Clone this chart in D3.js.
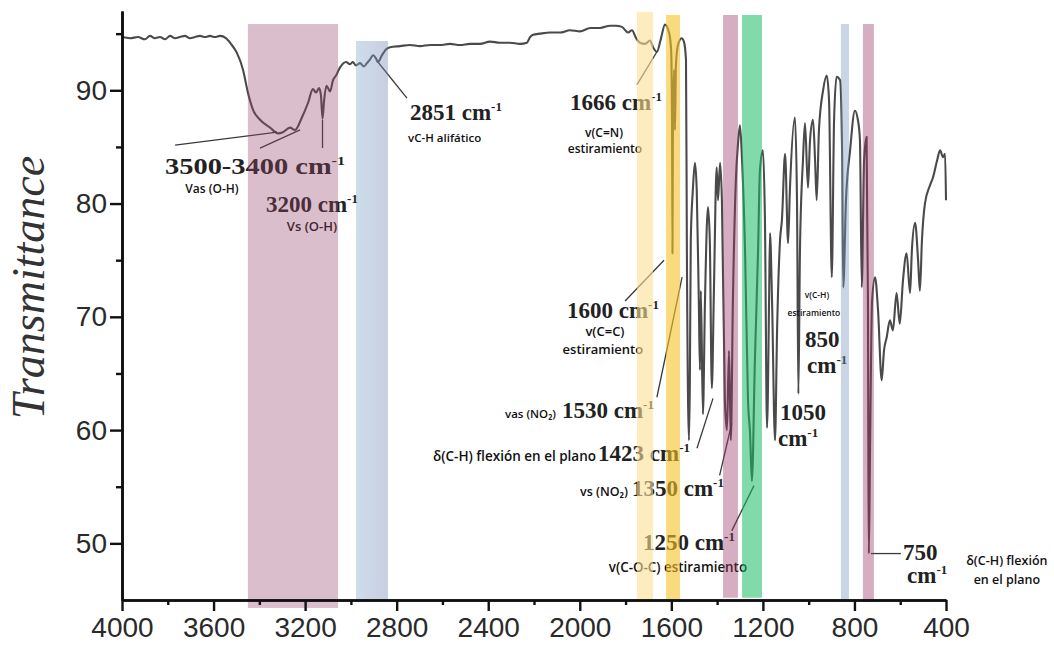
<!DOCTYPE html>
<html>
<head>
<meta charset="utf-8">
<script src="https://cdn.jsdelivr.net/npm/d3@7"></script>
<style>
  html, body { margin: 0; padding: 0; background: #fff; }
  svg { display: block; }
</style>
</head>
<body>
<svg id="chart" width="1054" height="645"></svg>
<script>
// FTIR spectrum: wavenumber (cm-1) and transmittance (%)
const wavenumber = [4000,3965,3930,3900,3878,3856,3834,3812,3790,3768,3747,3725,3703,3681,3659,3637,3616,3594,3572,3546,
  3524,3498,3471,3450,3428,3397,3353,3318,3297,3266,3244,3214,3187,3166,3152,3139,3131,3124,3117,3107,
  3100,3091,3078,3065,3048,3021,3004,2991,2978,2960,2943,2930,2917,2903,2890,2882,2864,2847,2829,2785,
  2742,2698,2654,2611,2567,2523,2480,2436,2392,2349,2305,2261,2231,2217,2204,2174,2130,2086,2043,1999,
  1955,1912,1868,1842,1816,1789,1772,1754,1737,1715,1693,1680,1663,1645,1628,1610,1601,1597,1595,1593,
  1588,1584,1580,1571,1555,1545,1536,1532,1523,1519,1515,1506,1497,1489,1480,1475,1471,1462,1453,1440,
  1432,1423,1414,1402,1396,1387,1379,1366,1357,1348,1340,1331,1318,1309,1300,1291,1278,1265,1256,1248,
  1235,1221,1213,1200,1191,1182,1173,1169,1160,1147,1138,1125,1117,1103,1090,1082,1060,1051,1045,1038,
  1025,1016,1003,994,981,972,965,955,937,921,911,899,889,878,863,854,849,837,819,798,
  785,776,768,758,747,741,739,737,732,723,710,697,681,671,659,645,632,616,602,588,
  572,557,549,535,522,514,505,492,470,457,439,426,413,404,400];

const transmittance = [94.7,94.6,94.7,94.5,94.8,94.6,94.7,94.5,94.8,94.6,94.7,94.8,94.6,94.7,94.8,94.7,94.8,94.7,94.8,94.6,
  94.1,93.3,91.8,89.8,88.3,87.4,86.7,86.2,86.3,86.7,86.5,87.6,88.9,90.1,89.8,90.2,89.6,87.5,89.1,90.4,
  90.2,89.9,90.9,91.3,92.0,92.5,92.3,92.5,92.2,92.4,92.1,92.4,92.7,93.1,92.8,92.5,93.1,93.6,93.8,93.9,
  94.0,93.9,94.0,94.0,94.1,94.0,94.1,94.1,94.3,94.2,94.2,94.1,94.2,94.7,94.9,95.0,95.1,95.1,95.3,95.2,
  95.5,95.5,95.7,95.7,95.6,95.1,95.3,94.6,94.2,94.1,94.4,93.8,93.4,94.6,95.8,95.1,93.6,87.4,75.6,87.4,
  91.8,86.5,92.2,94.0,94.6,94.3,92.7,75.6,59.1,64.4,76.8,81.2,83.6,81.2,71.4,65.3,72.3,61.4,71.4,79.7,
  76.8,63.7,72.3,83.2,80.3,83.6,80.3,62.6,60.0,67.0,59.1,71.4,82.1,85.2,86.9,83.8,75.9,62.6,59.7,55.5,
  66.1,75.9,82.9,84.7,78.5,60.2,71.4,77.4,71.4,59.1,68.8,76.8,78.5,84.4,76.5,81.2,87.6,80.3,63.2,75.9,
  83.8,87.1,81.4,85.6,87.4,83.8,80.3,86.5,90.0,91.3,89.1,73.5,87.4,91.2,90.9,84.7,72.6,80.3,84.7,88.2,
  87.4,85.6,72.6,83.8,85.9,71.4,56.7,49.1,58.2,71.4,73.5,70.6,64.4,67.0,68.2,69.7,68.8,72.1,69.4,73.2,
  75.6,72.1,75.9,78.3,75.0,72.3,76.8,80.0,81.6,82.3,83.8,84.7,84.1,84.4,80.3];

// Axis ticks
const xMajorTicks = [4000,3600,3200,2800,2400,2000,1600,1200,800,400];
const xMinorTicks = [3800,3400,3000,2600,2200,1800,1400,1000,600];
const yMajorTicks = [50,60,70,80,90];
const yMinorTicks = [55,65,75,85,95];

// Highlighted absorption regions (cm-1) and their vertical extent (%T)
const bandStart  = [3450, 2978, 1750, 1623, 1374, 1291, 859, 763];
const bandEnd    = [3056, 2838, 1680, 1562, 1309, 1204, 824, 715];
const bandTop    = [95.85, 94.35, 96.9, 96.65, 96.65, 96.65, 95.85, 95.85];
const bandBottom = [44.3, 45.0, 45.0, 44.85, 45.2, 45.2, 44.85, 44.85];
const bandFill   = ["rgb(149,69,106)", "url(#blueBand)", "rgb(250,223,147)", "rgb(245,193,38)",
                    "rgb(150,55,100)", "rgb(28,188,100)", "rgb(120,150,190)", "rgb(150,55,100)"];
const bandOpacity = [0.35, 0.4, 0.6, 0.6, 0.4, 0.55, 0.4, 0.4];

// Peak labels (value part, followed by "cm-1")
const peakText = ["3500-3400", "3200", "2851", "1666", "1600", "1530", "1423", "1350", "1250"];
const peakAt = [[3812, 82.6], [3371, 79.25], [2742, 87.4], [2043, 88.3], [2056, 69.9],
                [2078, 61.1], [1920, 57.3], [1772, 54.2], [1724, 49.4]];
const peakWidth = [180, null, null, null, null, null, null, null, null];

// Two-line peak labels (value above, unit below)
const stackedText = ["850", "1050", "750"];
const stackedAt = [[1016, 67.3], [1125, 60.9], [588, 48.5]];
const stackedUnitAt = [[1007, 65.0], [1134, 58.6], [570, 46.5]];

// Band assignments
const assignText = ["Vas (O-H)", "Vs (O-H)", "vC-H alifático", "v(C=N)", "estiramiento", "v(C=C)", "estiramiento",
  "vas (NO\u2082)", "\u03b4(C-H) flexión en el plano", "vs (NO\u2082)", "v(C-O-C) estiramiento",
  "v(C-H)", "estiramiento", "\u03b4(C-H) flexión", "en el plano"];
const assignAt = [[3607, 80.9], [3170, 77.6], [2750, 85.4], [1894, 85.9], [1890, 84.45], [1890, 68.3], [1899, 66.7],
  [2104, 61.1], [1929, 57.3], [1789, 54.2], [1571, 47.5], [964, 71.7], [977, 70.1], [134, 48.05], [134, 46.45]];
const assignAnchor = ["middle", "middle", "start", "middle", "middle", "middle", "middle",
  "end", "end", "end", "middle", "middle", "middle", "middle", "middle"];
const assignSize = [12, 13, 11.5, 12, 12, 13, 13, 11.5, 13.5, 12.5, 13.4, 8.5, 8.5, 12.5, 12.5];

// Leader lines joining labels to peaks
const leaders = [
  [[3768, 85.15], [3323, 86.3]],
  [[3397, 84.9], [3222, 86.5]],
  [[3124, 87.4], [3124, 84.9]],
  [[2882, 92.5], [2755, 89.3]],
  [[1663, 93.4], [1750, 90.5]],
  [[1632, 75.0], [1802, 71.4]],
  [[1553, 73.5], [1663, 62.9]],
  [[1418, 62.8], [1488, 58.4]],
  [[1336, 60.6], [1389, 56.0]],
  [[1239, 55.1], [1336, 51.1]],
  [[728, 49.1], [597, 49.1]]
];

const svg = d3.select("#chart");
const x = d3.scaleLinear().domain([4000, 400]).range([122, 946]);
const y = d3.scaleLinear().domain([45, 97]).range([600, 11]);

const defs = svg.append("defs");
const grad = defs.append("linearGradient").attr("id", "blueBand")
  .attr("x1", "0%").attr("x2", "100%").attr("y1", "0%").attr("y2", "0%");
grad.append("stop").attr("offset", "0%").attr("stop-color", "rgb(130,172,205)");
grad.append("stop").attr("offset", "100%").attr("stop-color", "rgb(118,132,178)");

// Spectrum trace
const spectrum = wavenumber.map((w, i) => ({ w, t: transmittance[i] }));
const line = d3.line().x(d => x(d.w)).y(d => y(d.t)).curve(d3.curveMonotoneX);
svg.append("path")
  .datum(spectrum)
  .attr("d", line)
  .attr("fill", "none")
  .attr("stroke", "#4a4a4a")
  .attr("stroke-width", 2.1)
  .attr("stroke-linejoin", "round");

// Leader lines
svg.append("g").selectAll("line").data(leaders).join("line")
  .attr("x1", d => x(d[0][0])).attr("y1", d => y(d[0][1]))
  .attr("x2", d => x(d[1][0])).attr("y2", d => y(d[1][1]))
  .attr("stroke", "#3a3a3a").attr("stroke-width", 1.3);

// Peak labels in bold serif with superscript unit
const serif = "'Liberation Serif', 'Times New Roman', serif";
function unitLabel(g, px, py, value, width) {
  const t = g.append("text")
    .attr("x", px).attr("y", py)
    .attr("font-family", serif).attr("font-weight", "bold")
    .attr("font-size", 23).attr("fill", "#222");
  t.append("tspan").text(value === "" ? "cm" : value + " cm");
  t.append("tspan").attr("font-size", 13).attr("dy", -9).text("-1");
  if (width) t.attr("textLength", width).attr("lengthAdjust", "spacingAndGlyphs");
  return t;
}
const labels = svg.append("g");
peakText.forEach((s, i) => unitLabel(labels, x(peakAt[i][0]), y(peakAt[i][1]), s, peakWidth[i]));
stackedText.forEach((s, i) => {
  labels.append("text")
    .attr("x", x(stackedAt[i][0])).attr("y", y(stackedAt[i][1]))
    .attr("font-family", serif).attr("font-weight", "bold")
    .attr("font-size", 23).attr("fill", "#222").text(s);
  unitLabel(labels, x(stackedUnitAt[i][0]), y(stackedUnitAt[i][1]), "", null);
});

// Assignment captions
svg.append("g").selectAll("text").data(assignText).join("text")
  .attr("x", (d, i) => x(assignAt[i][0]))
  .attr("y", (d, i) => y(assignAt[i][1]))
  .attr("text-anchor", (d, i) => assignAnchor[i])
  .attr("font-family", "'Open Sans', 'Noto Sans', sans-serif")
  .attr("font-weight", 600)
  .attr("font-size", (d, i) => assignSize[i])
  .attr("fill", "#111")
  .text(d => d);

// Highlight bands over the trace
svg.append("g").selectAll("rect").data(bandStart).join("rect")
  .attr("x", (d, i) => x(d))
  .attr("width", (d, i) => x(bandEnd[i]) - x(d))
  .attr("y", (d, i) => y(bandTop[i]))
  .attr("height", (d, i) => y(bandBottom[i]) - y(bandTop[i]))
  .attr("fill", (d, i) => bandFill[i])
  .attr("fill-opacity", (d, i) => bandOpacity[i]);

// Axes
const axisFont = "'Liberation Sans', Arial, sans-serif";
function styleAxis(g) {
  g.select(".domain").attr("stroke", "#111").attr("stroke-width", 2.6);
  g.selectAll(".tick line").attr("stroke", "#111").attr("stroke-width", 2.4);
  g.selectAll(".tick text").attr("font-family", axisFont).attr("font-size", 28).attr("fill", "#2a2a2a");
}
svg.append("g").attr("transform", "translate(0,600)")
  .call(d3.axisBottom(x).tickValues(xMinorTicks).tickSize(5).tickSizeOuter(0).tickFormat(""))
  .call(styleAxis);
svg.append("g").attr("transform", "translate(0,600)")
  .call(d3.axisBottom(x).tickValues(xMajorTicks).tickSize(11).tickSizeOuter(0).tickPadding(6).tickFormat(d3.format("d")))
  .call(styleAxis);
svg.append("g").attr("transform", "translate(122,0)")
  .call(d3.axisLeft(y).tickValues(yMinorTicks).tickSize(6).tickSizeOuter(0).tickFormat(""))
  .call(styleAxis);
svg.append("g").attr("transform", "translate(122,0)")
  .call(d3.axisLeft(y).tickValues(yMajorTicks).tickSize(12).tickSizeOuter(0).tickPadding(3).tickFormat(d3.format("d")))
  .call(styleAxis);

// Y axis title
svg.append("text")
  .attr("transform", `translate(44,${(y(45) + y(97)) / 2 - 18}) rotate(-90)`)
  .attr("text-anchor", "middle")
  .attr("font-family", serif)
  .attr("font-style", "italic")
  .attr("font-size", 46)
  .attr("fill", "#333")
  .text("Transmittance");
</script>
</body>
</html>
